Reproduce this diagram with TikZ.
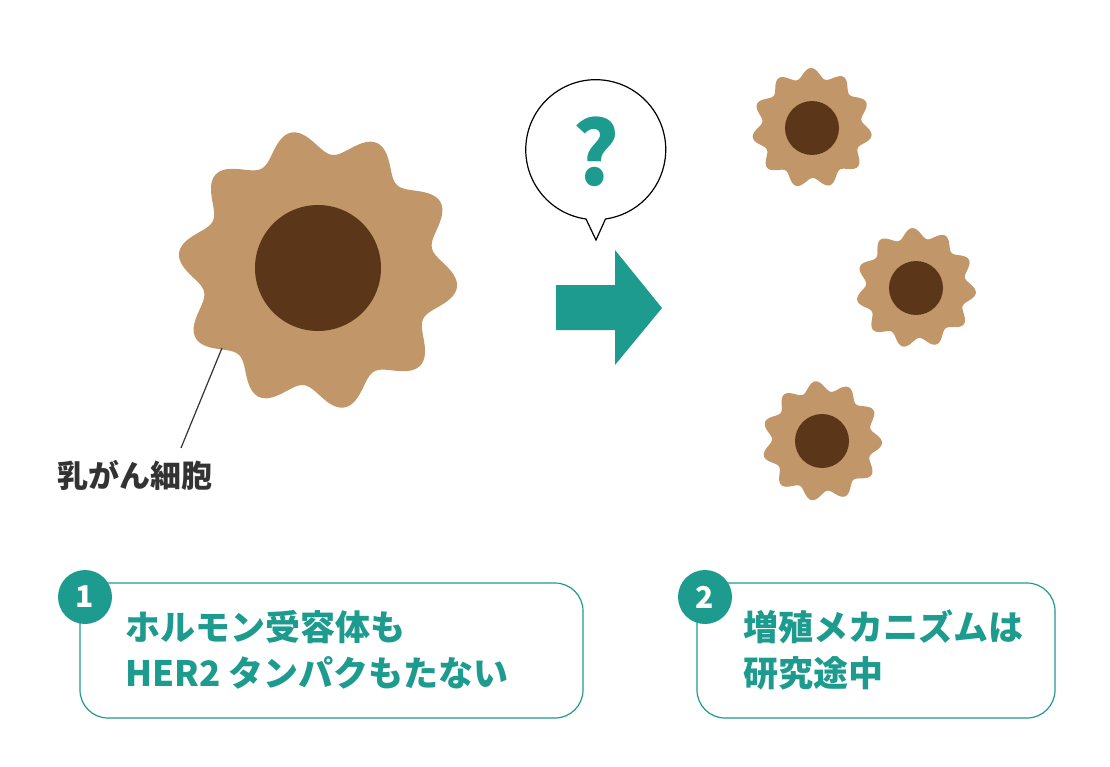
\documentclass[tikz,border=0pt]{standalone}
\usepackage{fontspec}
\setmainfont{Noto Sans CJK JP}
\definecolor{tan}{HTML}{C19769}
\definecolor{nuc}{HTML}{5C3619}
\definecolor{teal}{HTML}{1E9B8F}
\definecolor{txt}{HTML}{333333}
\tikzset{
 cell/.style={fill=tan,draw=none},
 nucl/.style={fill=nuc,draw=none},
 box/.style={draw=teal,line width=1.2pt,rounded corners=28pt,fill=white},
 badge/.style={circle,fill=teal,text=white,minimum size=54pt,inner sep=0pt,font=\bfseries\fontsize{30}{30}\selectfont},
 btxt/.style={text=teal,anchor=west,font=\bfseries\fontsize{35}{46}\selectfont,align=left},
}
\begin{document}
\begin{tikzpicture}[x=1pt,y=-1pt]
\useasboundingbox (0,0) rectangle (1110,767);
% big cell
\fill[cell] plot[domain=0:360,samples=300,smooth] ({318+(128+12*sin(10*\x+20))*cos(\x)},{270+(128+12*sin(10*\x+20))*sin(\x)}) -- cycle;
\node[circle,nucl,minimum size=126pt,inner sep=0pt] (n0) at (318,268) {};
\coordinate (p0) at (222,348);
\node[anchor=west,text=txt,font=\bfseries\fontsize{31}{31}\selectfont] (lab) at (54,475) {乳がん細胞};
\draw[txt,line width=1.2pt] (p0) -- (181,448);
% small cells
\foreach \cx/\cy/\ph in {812/128/10,916/288/40,822/441/70}{
 \fill[cell] plot[domain=0:360,samples=240,smooth] ({\cx+(55+5*sin(11*\x+\ph))*cos(\x)},{\cy+(55+5*sin(11*\x+\ph))*sin(\x)}) -- cycle;
 \fill[nucl] (\cx,\cy) circle (27);
}
% bubble
\draw[line width=1.2pt,fill=white] (586,219) arc[start angle=98,end angle=442,radius=70] -- (596,240) -- cycle;
\node[text=teal,font=\bfseries\fontsize{88}{88}\selectfont] (q) at (596,152) {?};
% arrow
\fill[teal] (556,285) -- (615,285) -- (615,250) -- (662,308) -- (615,365) -- (615,330) -- (556,330) -- cycle;
% boxes
\draw[box] (80,583) rectangle (583,718);
\node[badge] (b1) at (85,597) {1};
\node[btxt] (t1) at (122,650) {ホルモン受容体も\\HER2 タンパクもたない};
\draw[box] (697,583) rectangle (1055,718);
\node[badge] (b2) at (705,597) {2};
\node[btxt] (t2) at (740,650) {増殖メカニズムは\\研究途中};
\end{tikzpicture}
\end{document}
